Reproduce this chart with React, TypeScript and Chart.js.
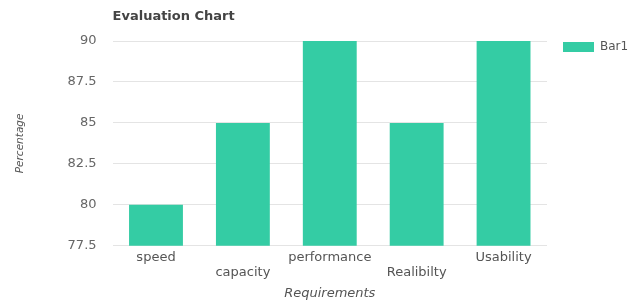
import React, { useEffect, useRef } from 'react';
import { Chart, registerables } from 'chart.js';

Chart.register(...registerables);

const chartTitle = 'Evaluation Chart';
const categories = ['speed', 'capacity', 'performance', 'Realibilty', 'Usability'];
const seriesName = 'Bar1';
const bar1Values = [80, 85, 90, 85, 90];
const yMin = 77.5;
const yMax = 90;
const yStep = 2.5;
const xAxisTitle = 'Requirements';
const yAxisTitle = 'Percentage';

const FONT = "'DejaVu Sans', 'Liberation Sans', Arial, sans-serif";
const BAR_COLOR = '#34cca4';

const leftTitlePlugin = {
  id: 'leftTitle',
  afterDraw(chart: any) {
    const { ctx, chartArea } = chart;
    ctx.save();
    ctx.font = `bold 13px ${FONT}`;
    ctx.fillStyle = '#444444';
    ctx.textBaseline = 'middle';
    ctx.textAlign = 'left';
    ctx.fillText(chartTitle, chartArea.left, chartArea.top - 24);
    ctx.restore();
  },
};

const sideLegendPlugin = {
  id: 'sideLegend',
  afterDraw(chart: any) {
    const { ctx, chartArea } = chart;
    ctx.save();
    ctx.font = `12px ${FONT}`;
    ctx.textBaseline = 'middle';
    ctx.textAlign = 'left';
    chart.data.datasets.forEach((ds: any, i: number) => {
      const x = chartArea.right + 16;
      const y = chartArea.top + 1 + i * 20;
      ctx.fillStyle = ds.backgroundColor;
      ctx.fillRect(x, y, 31, 10);
      ctx.fillStyle = '#555555';
      ctx.fillText(ds.label, x + 37, y + 5);
    });
    ctx.restore();
  },
};

export default function App() {
  const canvasRef = useRef<HTMLCanvasElement | null>(null);

  useEffect(() => {
    const prevMargin = document.body.style.margin;
    document.body.style.margin = '0';
    const canvas = canvasRef.current;
    if (!canvas) return;
    const chart = new Chart(canvas, {
      type: 'bar',
      data: {
        labels: categories,
        datasets: [
          {
            label: seriesName,
            data: bar1Values,
            backgroundColor: BAR_COLOR,
            borderWidth: 0,
            barPercentage: 0.62,
            categoryPercentage: 1,
          },
        ],
      },
      options: {
        animation: false,
        responsive: false,
        maintainAspectRatio: false,
        layout: { padding: { top: 41, right: 93, bottom: 0, left: 0 } },
        plugins: {
          title: { display: false },
          tooltip: { enabled: false },
          legend: { display: false },
        },
        scales: {
          x: {
            grid: { display: false, drawTicks: false },
            border: { display: false },
            ticks: {
              autoSkip: false,
              maxRotation: 0,
              minRotation: 0,
              padding: 5,
              color: '#555555',
              font: { family: FONT, size: 13, lineHeight: 1.1 },
              callback: (_v: any, i: number) => (i % 2 === 1 ? ['', categories[i]] : categories[i]),
            },
            title: {
              display: true,
              text: xAxisTitle,
              color: '#555555',
              font: { family: FONT, size: 13, style: 'italic' },
              padding: { top: 1, bottom: 1 },
            },
          },
          y: {
            min: yMin,
            max: yMax,
            border: { display: false },
            grid: { color: '#e4e4e4', drawTicks: false, lineWidth: 1 },
            ticks: {
              stepSize: yStep,
              padding: 16,
              color: '#666666',
              font: { family: FONT, size: 13 },
            },
            title: {
              display: true,
              text: yAxisTitle,
              color: '#555555',
              font: { family: FONT, size: 10.5, style: 'italic' },
              padding: { top: 14, bottom: 25 },
            },
          },
        },
      },
      plugins: [leftTitlePlugin, sideLegendPlugin],
    });
    return () => {
      chart.destroy();
      document.body.style.margin = prevMargin;
    };
  }, []);

  return (
    <div style={{ width: 640, height: 302 }}>
      <canvas ref={canvasRef} width={640} height={302} style={{ display: 'block' }} />
    </div>
  );
}
